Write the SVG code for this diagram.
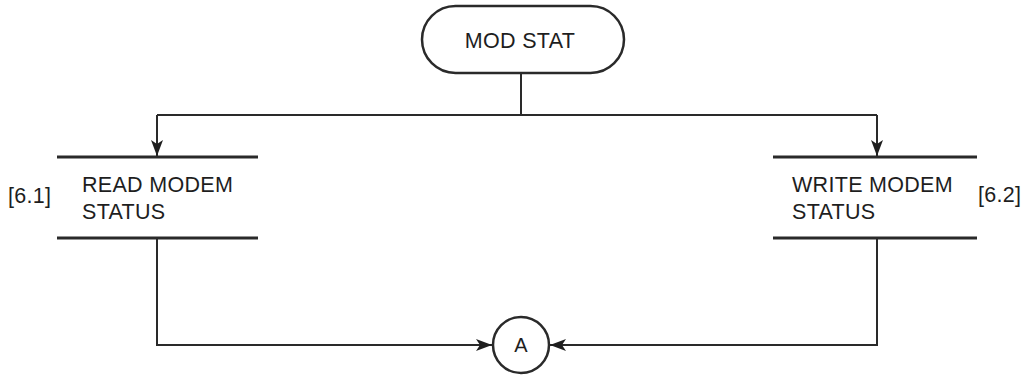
<svg xmlns="http://www.w3.org/2000/svg" width="1032" height="377" viewBox="0 0 1032 377">
<style>
text{font-family:"Liberation Sans",Arial,sans-serif;fill:#1e1e1e}
.lbl{font-size:21.5px;letter-spacing:0.3px}
.conn{fill:none;stroke:#2a2a2a;stroke-width:2}
.bar{stroke:#2a2a2a;stroke-width:3}
.term{fill:#fff;stroke:#2a2a2a;stroke-width:2.5}
</style>
<defs>
<marker id="ah" markerWidth="16" markerHeight="12" refX="16" refY="6" orient="auto" markerUnits="userSpaceOnUse">
<path d="M0,0 L16,6 L0,12 L4,6 Z" fill="#1e1e1e"/>
</marker>
</defs>
<rect width="1032" height="377" fill="#fff"/>
<g id="connectors">
<path class="conn" d="M521,73 V115"/>
<path class="conn" d="M157,115 H877"/>
<path class="conn" d="M157,115 V156" marker-end="url(#ah)"/>
<path class="conn" d="M877,115 V156" marker-end="url(#ah)"/>
<path class="conn" d="M157,238 V345 H492" marker-end="url(#ah)"/>
<path class="conn" d="M877,238 V345 H550" marker-end="url(#ah)"/>
</g>
<g id="mod-stat">
<rect class="term" x="422" y="6" width="202" height="67" rx="33.5"/>
<text class="lbl" x="520" y="48" text-anchor="middle">MOD STAT</text>
</g>
<g id="read-modem-status">
<line class="bar" x1="57" y1="157" x2="258" y2="157"/>
<line class="bar" x1="57" y1="238" x2="258" y2="238"/>
<text class="lbl" x="82" y="192">READ MODEM</text>
<text class="lbl" x="82" y="219">STATUS</text>
<text class="lbl" x="8" y="203">[6.1]</text>
</g>
<g id="write-modem-status">
<line class="bar" x1="773" y1="157" x2="977" y2="157"/>
<line class="bar" x1="773" y1="238" x2="977" y2="238"/>
<text class="lbl" x="792" y="192">WRITE MODEM</text>
<text class="lbl" x="792" y="219">STATUS</text>
<text class="lbl" x="978" y="202">[6.2]</text>
</g>
<g id="connector-a">
<circle cx="521" cy="345" r="28" fill="#fff" stroke="#2a2a2a" stroke-width="2.5"/>
<text x="521" y="352" font-size="20" text-anchor="middle">A</text>
</g>
</svg>
